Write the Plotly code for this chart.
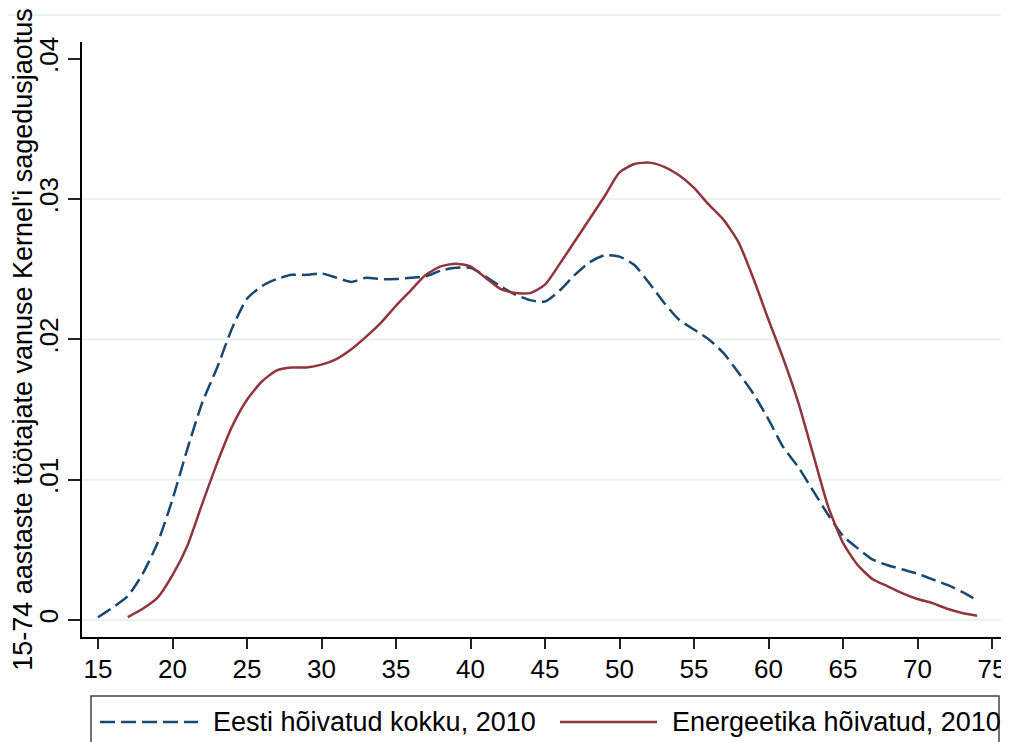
import plotly.graph_objects as go

# ---------------- data ----------------
ages_total = list(range(15, 75))
dens_total = [0.0002, 0.0009, 0.0017, 0.0033, 0.0055, 0.0086, 0.0122, 0.0155, 0.0180, 0.0208,
              0.0229, 0.0238, 0.0243, 0.0246, 0.0246, 0.0247, 0.0244, 0.0241, 0.0244, 0.0243,
              0.0243, 0.0244, 0.0245, 0.0249, 0.0251, 0.0251, 0.0245, 0.0238, 0.0232, 0.0228,
              0.0227, 0.0235, 0.0246, 0.0255, 0.0260, 0.0259, 0.0253, 0.0240, 0.0226, 0.0214,
              0.0207, 0.0200, 0.0190, 0.0176, 0.0161, 0.0143, 0.0123, 0.0109, 0.0092, 0.0075,
              0.0060, 0.0051, 0.0043, 0.0039, 0.0036, 0.0033, 0.0029, 0.0025, 0.0020, 0.0014]

ages_energy = [17, 17.5] + list(range(18, 75))
dens_energy = [0.0002, 0.0005, 0.0008, 0.0016, 0.0032, 0.0053, 0.0083, 0.0112, 0.0138, 0.0157,
               0.0170, 0.0178, 0.0180, 0.0180, 0.0182, 0.0186, 0.0193, 0.0202, 0.0212, 0.0224,
               0.0235, 0.0246, 0.0252, 0.0254, 0.0252, 0.0244, 0.0236, 0.0233, 0.0233, 0.0239,
               0.0254, 0.0270, 0.0286, 0.0302, 0.0319, 0.0325, 0.0326, 0.0323, 0.0317, 0.0308,
               0.0296, 0.0285, 0.0269, 0.0243, 0.0214, 0.0186, 0.0155, 0.0118, 0.0081, 0.0055,
               0.0039, 0.0029, 0.0024, 0.0019, 0.0015, 0.0012, 0.0008, 0.0005, 0.0003]

x_ticks = [15, 20, 25, 30, 35, 40, 45, 50, 55, 60, 65, 70, 75]
y_ticks = [0, 0.01, 0.02, 0.03, 0.04]
y_tick_text = ["0", ".01", ".02", ".03", ".04"]
grid_vals = [0, 0.01, 0.02, 0.03]

name_total = "Eesti hõivatud kokku, 2010"
name_energy = "Energeetika hõivatud, 2010"
y_title = "15-74 aastaste töötajate vanuse Kernel'i sagedusjaotus"

# ---------------- style ----------------
W, H = 1009, 742
OFF = 8                      # default page body margin
AX_L, AX_B, AX_T = 82, 637, 42   # wanted page positions of the axes
ML, MT = AX_L - OFF, AX_T - OFF
MB = H - (AX_B - OFF)
MR = 0
PW, PH = W - ML - MR, H - MT - MB
NAVY = "#1a476f"
MAROON = "#90353b"
GRID = "#eaf2f3"
FONT = "Liberation Sans, Arial, sans-serif"
PX_PER_YEAR = 14.9
PX_PER_UNIT = 14030.0


def px_x(p):
    return (p - AX_L) / PW


def px_y(p):
    return (AX_B - p) / PH


x_lo = 15 - (98 - AX_L) / PX_PER_YEAR
x_hi = x_lo + PW / PX_PER_YEAR
y_lo = -(AX_B - 620) / PX_PER_UNIT
y_hi = y_lo + PH / PX_PER_UNIT

fig = go.Figure()
fig.add_trace(go.Scatter(x=ages_total, y=dens_total, mode="lines", name=name_total,
                         line=dict(color=NAVY, width=2.5, dash="15px,6px", shape="spline", smoothing=0.6)))
fig.add_trace(go.Scatter(x=ages_energy, y=dens_energy, mode="lines", name=name_energy,
                         line=dict(color=MAROON, width=2.5, shape="spline", smoothing=0.6)))

shapes = []
for g in grid_vals:
    shapes.append(dict(type="line", xref="paper", yref="y", x0=0, x1=1, y0=g, y1=g,
                       line=dict(color=GRID, width=2), layer="below"))
# faint top border line of graph region
shapes.append(dict(type="line", xref="paper", yref="paper", x0=px_x(0), x1=px_x(W + OFF), y0=px_y(15), y1=px_y(15),
                   line=dict(color=GRID, width=2), layer="below"))
# legend box
shapes.append(dict(type="rect", xref="paper", yref="paper", x0=px_x(91), x1=px_x(999), y0=px_y(800), y1=px_y(696),
                   line=dict(color="#444444", width=1.5), fillcolor="rgba(0,0,0,0)"))
shapes.append(dict(type="line", xref="paper", yref="paper", x0=px_x(100), x1=px_x(198), y0=px_y(722), y1=px_y(722),
                   line=dict(color=NAVY, width=2.5, dash="15px,6px")))
shapes.append(dict(type="line", xref="paper", yref="paper", x0=px_x(560), x1=px_x(657), y0=px_y(722), y1=px_y(722),
                   line=dict(color=MAROON, width=2.5)))

annotations = [
    dict(text=name_total, xref="paper", yref="paper", x=px_x(211), y=px_y(722), xanchor="left", yanchor="middle",
         showarrow=False, font=dict(size=27, color="black", family=FONT)),
    dict(text=name_energy, xref="paper", yref="paper", x=px_x(670), y=px_y(722), xanchor="left", yanchor="middle",
         showarrow=False, font=dict(size=27, color="black", family=FONT)),
]

fig.update_layout(
    width=W, height=H,
    margin=dict(l=ML, r=MR, t=MT, b=MB, pad=0),
    paper_bgcolor="white", plot_bgcolor="white",
    showlegend=False,
    font=dict(family=FONT, size=26, color="black"),
    shapes=shapes, annotations=annotations,
    xaxis=dict(range=[x_lo, x_hi], tickvals=x_ticks, ticks="outside", ticklen=10,
               tickwidth=1.5, tickcolor="#222", showline=True, linecolor="black", linewidth=1.5,
               showgrid=False, zeroline=False, tickfont=dict(size=26), ticklabelstandoff=-2,
               fixedrange=True),
    yaxis=dict(range=[y_lo, y_hi], tickvals=y_ticks, ticktext=y_tick_text,
               ticks="outside", ticklen=12, tickwidth=1.5, tickcolor="#222", tickangle=-90,
               showline=True, linecolor="black", linewidth=1.5, showgrid=False, zeroline=False,
               tickfont=dict(size=26),
               title=dict(text=y_title, font=dict(size=27), standoff=2), automargin=False),
)

fig.write_html("out.html")
